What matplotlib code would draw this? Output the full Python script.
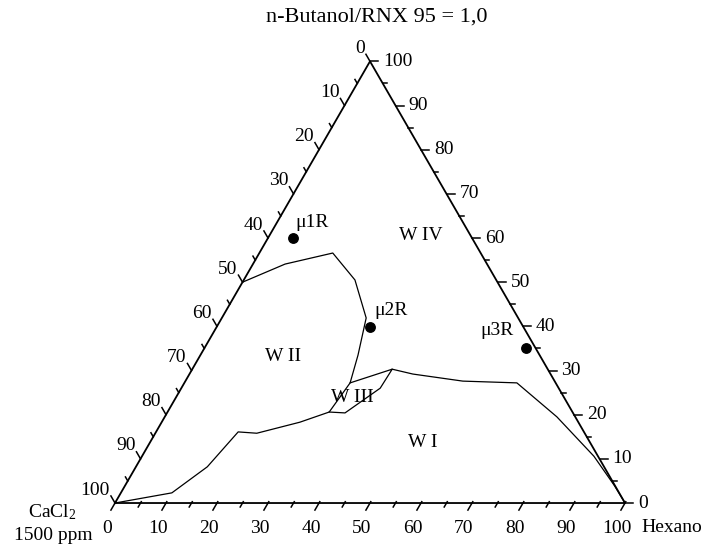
import numpy as np
import matplotlib
matplotlib.use("Agg")
import matplotlib.pyplot as plt

plt.rcParams['font.family'] = ['Liberation Serif', 'DejaVu Serif']
plt.rcParams['mathtext.fontset'] = 'custom'
plt.rcParams['mathtext.rm'] = 'Liberation Serif'
plt.rcParams['mathtext.default'] = 'regular'

# ternary data: h = Hexano %, b = n-Butanol/RNX %, CaCl2 = 100 - h - b
wii_h = [0, 6.3, 14.4, 21.8, 28.3, 30.9, 32.5, 31.7, 27.1, 19.9, 16.1, 14.0, 10.0, 0]
wii_b = [50, 54.1, 56.6, 50.5, 41.9, 33.5, 27.2, 20.6, 18.3, 15.8, 16.1, 8.2, 2.3, 0]

wiii_h = [32.5, 39.2, 39.0, 34.9, 31.7]
wiii_b = [27.2, 30.3, 26.0, 20.4, 20.6]

wi_h = [39.2, 43.8, 54.4, 65.2, 76.9, 88.6, 96.0, 100]
wi_b = [30.3, 29.2, 27.6, 27.2, 19.5, 10.6, 3.9, 0]

pts_names = ["\u03bc1R", "\u03bc2R", "\u03bc3R"]
pts_h = [4.9, 30.1, 63.0]
pts_b = [60.0, 39.8, 35.0]

tick_vals = np.arange(0, 101, 5)


def tern(h, b):
    h = np.asarray(h, dtype=float)
    b = np.asarray(b, dtype=float)
    return h + b / 2, b * np.sqrt(3) / 2


fig = plt.figure(figsize=(7.09, 5.48), dpi=100)
ax = fig.add_axes([0, 0, 1, 1])
ax.set_xlim(-22.55, 116.47)
ax.set_ylim(-8.82, 98.63)
ax.axis('off')

# triangle
tx, ty = tern([0, 100, 0, 0], [0, 0, 100, 0])
ax.plot(tx, ty, color='black', lw=1.3, solid_joinstyle='miter')

fs = 14
s3 = np.sqrt(3) / 2
for v in tick_vals:
    major = v % 10 == 0
    L = 1.6 if major else 0.9
    # bottom axis (Hexano)
    bx, by = tern(v, 0)
    ax.plot([bx + 0.5 * 0.3, bx - 0.5 * L], [by + s3 * 0.3, by - s3 * L], color='black', lw=1.1)
    # left axis (CaCl2)
    lx, ly = tern(0, 100 - v)
    ax.plot([lx, lx - 0.5 * L], [ly, ly + s3 * L], color='black', lw=1.1)
    # right axis (n-Butanol/RNX)
    rx, ry = tern(100 - v, v)
    ax.plot([rx, rx + L], [ry, ry], color='black', lw=1.1)
    if major:
        ax.text(bx - 1.57, by - 4.9, f"{v}", ha='center', va='center', fontsize=fs)
        ax.text(lx - 1.0, ly + 2.55, f"{v}", ha='right', va='center', fontsize=fs)
        ax.text(rx + 2.55, ry, f"{v}", ha='left', va='center', fontsize=fs)

# phase boundaries
for hh, bb in [(wii_h, wii_b), (wiii_h, wiii_b), (wi_h, wi_b)]:
    x, y = tern(hh, bb)
    ax.plot(x, y, color='black', lw=0.9)

px, py = tern(pts_h, pts_b)
ax.plot(px, py, 'o', color='black', markersize=6.8)

label_pos = [(38.6, 55.1), (54.1, 37.8), (74.9, 33.9)]
for name, (lx, ly) in zip(pts_names, label_pos):
    ax.text(lx, ly, name, ha='center', va='center', fontsize=fs)

ax.text(60.0, 52.4, "W IV", ha='center', va='center', fontsize=fs)
ax.text(32.9, 28.8, "W II", ha='center', va='center', fontsize=fs)
ax.text(46.5, 20.6, "W III", ha='center', va='center', fontsize=fs)
ax.text(60.4, 11.8, "W I", ha='center', va='center', fontsize=fs)

fig.text(377 / 709, 1 - 17 / 548, "n-Butanol/RNX 95 = 1,0", ha='center', va='center', fontsize=16)
fig.text(52 / 709, 1 - 512 / 548, "CaCl$_2$", ha='center', va='center', fontsize=fs)
fig.text(53 / 709, 1 - 536 / 548, "1500 ppm", ha='center', va='center', fontsize=fs)
fig.text(672 / 709, 1 - 528 / 548, "Hexano", ha='center', va='center', fontsize=fs)

fig.savefig("out.png", dpi=100)
